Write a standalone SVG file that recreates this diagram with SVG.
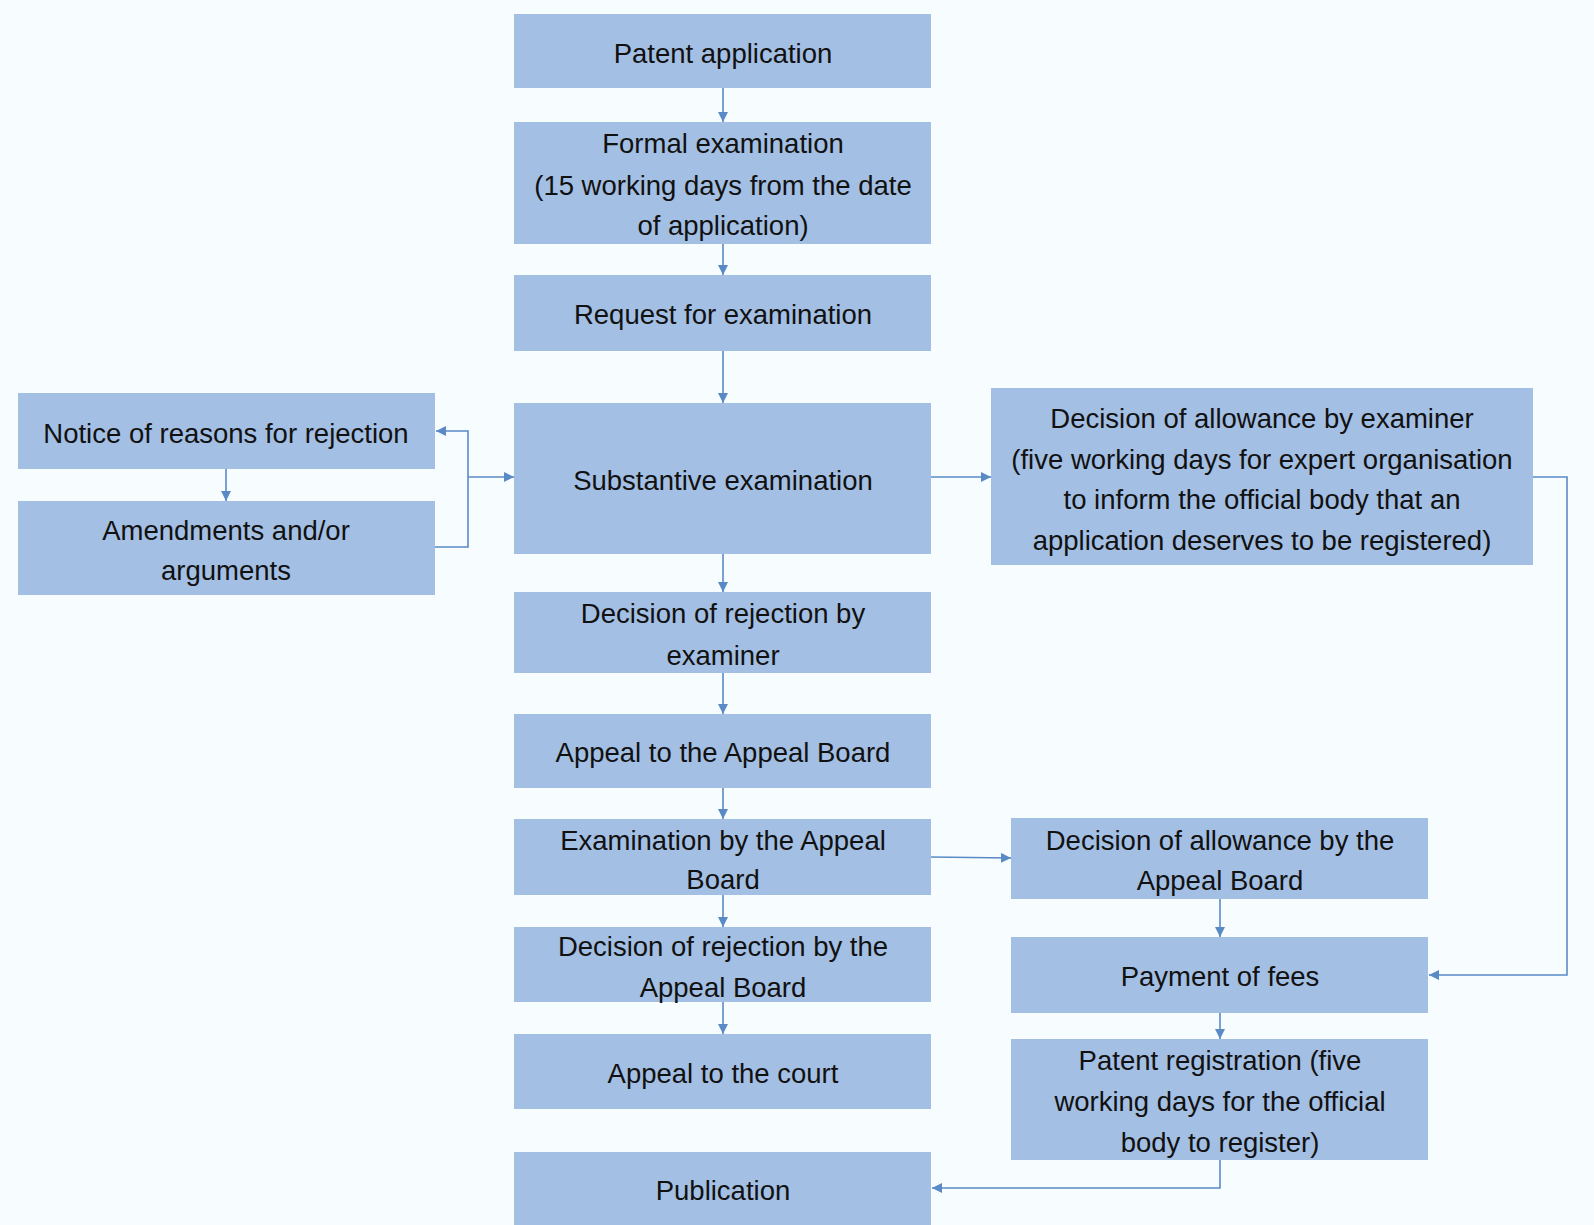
<svg xmlns="http://www.w3.org/2000/svg" width="1594" height="1225" viewBox="0 0 1594 1225">
<style>
.bg{fill:#F7FDFF}
.box{fill:#A3BFE3}
.t{font-family:"Liberation Sans",Arial,sans-serif;font-size:27.5px;fill:#111;text-anchor:middle}
.c{fill:none;stroke:#5A8AC6;stroke-width:1.6}
</style>
<defs>
<marker id="ah" markerUnits="userSpaceOnUse" markerWidth="10" markerHeight="10" viewBox="0 0 10 10" refX="10" refY="5" orient="auto">
<path d="M0,0 L10,5 L0,10 z" fill="#5A8AC6"/>
</marker>
</defs>
<rect class="bg" x="0" y="0" width="1594" height="1225"/>

<g id="connectors">
<line class="c" x1="723" y1="88" x2="723" y2="122" marker-end="url(#ah)"/>
<line class="c" x1="723" y1="244" x2="723" y2="275" marker-end="url(#ah)"/>
<line class="c" x1="723" y1="351" x2="723" y2="403" marker-end="url(#ah)"/>
<line class="c" x1="723" y1="554" x2="723" y2="592" marker-end="url(#ah)"/>
<line class="c" x1="723" y1="673" x2="723" y2="714" marker-end="url(#ah)"/>
<line class="c" x1="723" y1="788" x2="723" y2="819" marker-end="url(#ah)"/>
<line class="c" x1="723" y1="895" x2="723" y2="927" marker-end="url(#ah)"/>
<line class="c" x1="723" y1="1002" x2="723" y2="1034" marker-end="url(#ah)"/>
<line class="c" x1="226" y1="469" x2="226" y2="501" marker-end="url(#ah)"/>
<polyline class="c" points="435,547 468,547 468,431 436,431" marker-end="url(#ah)"/>
<line class="c" x1="468" y1="477" x2="514" y2="477" marker-end="url(#ah)"/>
<line class="c" x1="931" y1="477" x2="991" y2="477" marker-end="url(#ah)"/>
<polyline class="c" points="1533,477 1567,477 1567,975 1429,975" marker-end="url(#ah)"/>
<line class="c" x1="931" y1="857" x2="1011" y2="858" marker-end="url(#ah)"/>
<line class="c" x1="1220" y1="899" x2="1220" y2="937" marker-end="url(#ah)"/>
<line class="c" x1="1220" y1="1013" x2="1220" y2="1039" marker-end="url(#ah)"/>
<polyline class="c" points="1220,1160 1220,1188 932,1188" marker-end="url(#ah)"/>
</g>

<g id="patent-application"><rect class="box" x="514" y="14" width="417" height="74"/><text class="t" x="723" y="63">Patent application</text></g>
<g id="formal-examination"><rect class="box" x="514" y="122" width="417" height="122"/><text class="t" x="723" y="153">Formal examination</text><text class="t" x="723" y="195">(15 working days from the date</text><text class="t" x="723" y="235">of application)</text></g>
<g id="request-examination"><rect class="box" x="514" y="275" width="417" height="76"/><text class="t" x="723" y="324">Request for examination</text></g>
<g id="substantive-examination"><rect class="box" x="514" y="403" width="417" height="151"/><text class="t" x="723" y="490">Substantive examination</text></g>
<g id="decision-rejection-examiner"><rect class="box" x="514" y="592" width="417" height="81"/><text class="t" x="723" y="623">Decision of rejection by</text><text class="t" x="723" y="665">examiner</text></g>
<g id="appeal-board"><rect class="box" x="514" y="714" width="417" height="74"/><text class="t" x="723" y="762">Appeal to the Appeal Board</text></g>
<g id="examination-appeal-board"><rect class="box" x="514" y="819" width="417" height="76"/><text class="t" x="723" y="850">Examination by the Appeal</text><text class="t" x="723" y="889">Board</text></g>
<g id="decision-rejection-appeal-board"><rect class="box" x="514" y="927" width="417" height="75"/><text class="t" x="723" y="956">Decision of rejection by the</text><text class="t" x="723" y="997">Appeal Board</text></g>
<g id="appeal-court"><rect class="box" x="514" y="1034" width="417" height="75"/><text class="t" x="723" y="1083">Appeal to the court</text></g>
<g id="publication"><rect class="box" x="514" y="1152" width="417" height="73"/><text class="t" x="723" y="1200">Publication</text></g>

<g id="notice-rejection"><rect class="box" x="18" y="393" width="417" height="76"/><text class="t" x="226" y="443">Notice of reasons for rejection</text></g>
<g id="amendments"><rect class="box" x="18" y="501" width="417" height="94"/><text class="t" x="226" y="540">Amendments and/or</text><text class="t" x="226" y="580">arguments</text></g>

<g id="decision-allowance-examiner"><rect class="box" x="991" y="388" width="542" height="177"/><text class="t" x="1262" y="428">Decision of allowance by examiner</text><text class="t" x="1262" y="469">(five working days for expert organisation</text><text class="t" x="1262" y="509">to inform the official body that an</text><text class="t" x="1262" y="550">application deserves to be registered)</text></g>
<g id="decision-allowance-appeal-board"><rect class="box" x="1011" y="818" width="417" height="81"/><text class="t" x="1220" y="850">Decision of allowance by the</text><text class="t" x="1220" y="890">Appeal Board</text></g>
<g id="payment-fees"><rect class="box" x="1011" y="937" width="417" height="76"/><text class="t" x="1220" y="986">Payment of fees</text></g>
<g id="patent-registration"><rect class="box" x="1011" y="1039" width="417" height="121"/><text class="t" x="1220" y="1070">Patent registration (five</text><text class="t" x="1220" y="1111">working days for the official</text><text class="t" x="1220" y="1152">body to register)</text></g>
</svg>
